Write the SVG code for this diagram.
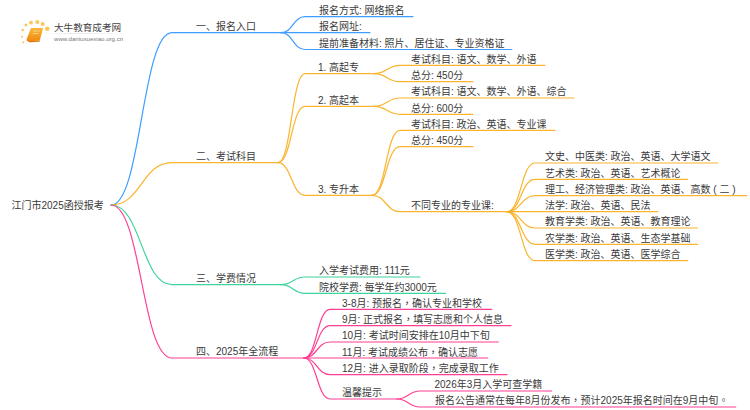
<svg xmlns="http://www.w3.org/2000/svg" width="750" height="410" viewBox="0 0 750 410">
<style>
text{font-family:"Liberation Sans","Noto Sans CJK SC",sans-serif;font-size:10px;fill:#3a3a3a}
.c{font-family:"Noto Sans CJK TC",sans-serif}
#connectors path{fill:none;stroke-width:1.2;stroke-linecap:round}
.b{stroke:#3f9dff}.o{stroke:#fab42f}.g{stroke:#3fd49b}.p{stroke:#ff3f92}
</style>
<defs>
<linearGradient id="lg" x1="0" x2="1" y1="0" y2="0"><stop offset="0" stop-color="#ddd" stop-opacity="0"/><stop offset=".3" stop-color="#ddd"/><stop offset="1" stop-color="#ddd" stop-opacity="0"/></linearGradient>
<linearGradient id="bk" x1="0" x2="0" y1="0" y2="1"><stop offset="0" stop-color="#fbb437"/><stop offset="1" stop-color="#f08a12"/></linearGradient>
</defs>
<rect width="750" height="410" fill="#fff"/>
<g id="logo">
<g fill="#fbc65a"><circle cx="22.700" cy="30" r="1.300"/><circle cx="22" cy="36.700" r="1"/><circle cx="23.300" cy="42.300" r="1"/><circle cx="26" cy="25" r="1.500"/><circle cx="31" cy="22.700" r="1.900"/><circle cx="37.300" cy="22" r="2"/><circle cx="42.700" cy="24" r="2"/><circle cx="47.300" cy="28.700" r="2.200"/></g>
<path d="M31 28h12l-3.300 12.500-11.700.8a1.500 1.500 0 0 1-1.500-1.800z" fill="url(#bk)"/>
<path d="M27.500 40c.5 1.500 1.500 2.300 3 2.300l9-.5 3.500-13-3.300 11.700-10.700.6z" fill="#d9770c"/>
<path d="M33 31h7M32.500 33.500h6" stroke="#ffe2a8" stroke-width=".7"/>
<rect x="45" y="33" width="88" height=".7" fill="url(#lg)"/>
<text x="54" y="30.500" style="font-size:9.600px;fill:#444">大牛教育成考网</text>
<text x="54" y="40.700" style="font-size:6.100px;fill:#777">www.daniuxuexiao.org.cn</text>
</g>
<g id="connectors">
<path class="b" d="M111 205C141.500 205 141.500 32.700 172 32.700H281"/>
<path class="b" d="M281 32.700C293 32.700 293 16.700 305 16.700H413"/>
<path class="b" d="M281 32.700H370"/>
<path class="b" d="M281 32.700C293 32.700 293 49.500 305 49.500H511.700"/>
<path class="o" d="M111 205C141.500 205 141.500 162.700 172 162.700H278"/>
<path class="o" d="M278 162.700C291.500 162.700 291.500 73.700 305 73.700H374"/>
<path class="o" d="M278 162.700C291.500 162.700 291.500 106.300 305 106.300H374"/>
<path class="o" d="M278 162.700C291.500 162.700 291.500 195.300 305 195.300H372"/>
<path class="o" d="M374 73.700C387 73.700 387 65.300 400 65.300H545"/>
<path class="o" d="M374 73.700C387 73.700 387 81.700 400 81.700H473"/>
<path class="o" d="M374 106.300C387 106.300 387 98 400 98H574"/>
<path class="o" d="M374 106.300C387 106.300 387 114.300 400 114.300H473"/>
<path class="o" d="M372 195.300C386 195.300 386 130.300 400 130.300H555"/>
<path class="o" d="M372 195.300C386 195.300 386 146.700 400 146.700H473"/>
<path class="o" d="M372 195.300C386 195.300 386 211.700 400 211.700H507"/>
<path class="o" d="M507 211.700C521 211.700 521 163 535 163H717.700"/>
<path class="o" d="M507 211.700C521 211.700 521 179.300 535 179.300H687.700"/>
<path class="o" d="M507 211.700C521 211.700 521 195.700 535 195.700H746.700"/>
<path class="o" d="M507 211.700H657.700"/>
<path class="o" d="M507 211.700C521 211.700 521 228 535 228H697.700"/>
<path class="o" d="M507 211.700C521 211.700 521 244.300 535 244.300H697.700"/>
<path class="o" d="M507 211.700C521 211.700 521 260.700 535 260.700H687.700"/>
<path class="g" d="M111 205C141.500 205 141.500 284.700 172 284.700H281"/>
<path class="g" d="M281 284.700C293 284.700 293 277 305 277H420"/>
<path class="g" d="M281 284.700C293 284.700 293 293.300 305 293.300H445.700"/>
<path class="p" d="M111 205C141.500 205 141.500 358 172 358H304"/>
<path class="p" d="M304 358C317 358 317 309.300 330 309.300H491.700"/>
<path class="p" d="M304 358C317 358 317 325.700 330 325.700H511"/>
<path class="p" d="M304 358C317 358 317 342 330 342H498.300"/>
<path class="p" d="M304 358H487.700"/>
<path class="p" d="M304 358C317 358 317 374.700 330 374.700H507"/>
<path class="p" d="M304 358C317 358 317 399 330 399H397"/>
<path class="p" d="M397 399C408.500 399 408.500 391 420 391H551.700"/>
<path class="p" d="M397 399C408.500 399 408.500 407 420 407H735.700"/>
</g>
<g id="root"><text x="11.500" y="208.500">江门市2025函授报考</text></g>
<g id="n1"><text x="196" y="30">一、报名入口</text></g>
<g id="n1-1"><text x="319" y="14">报名方式: 网络报名</text></g>
<g id="n1-2"><text x="319" y="30">报名网址:</text></g>
<g id="n1-3"><text x="319" y="46.800">提前准备材料: 照片、居住证、专业资格证</text></g>
<g id="n2"><text x="196" y="160">二、考试科目</text></g>
<g id="n2-1"><text x="318" y="71">1. 高起专</text></g>
<g id="n2-1-1"><text x="411" y="62.600">考试科目: 语文、数学、外语</text></g>
<g id="n2-1-2"><text x="411" y="79">总分: 450分</text></g>
<g id="n2-2"><text x="318" y="103.600">2. 高起本</text></g>
<g id="n2-2-1"><text x="411" y="95.300">考试科目: 语文、数学、外语、综合</text></g>
<g id="n2-2-2"><text x="411" y="111.600">总分: 600分</text></g>
<g id="n2-3"><text x="318" y="192.600">3. 专升本</text></g>
<g id="n2-3-1"><text x="411" y="127.600">考试科目: 政治、英语、专业课</text></g>
<g id="n2-3-2"><text x="411" y="144">总分: 450分</text></g>
<g id="n2-3-3"><text x="411" y="209">不同专业的专业课:</text></g>
<g id="n2-3-3-1"><text x="545" y="160.300">文史、中医类: 政治、英语、大学语文</text></g>
<g id="n2-3-3-2"><text x="545" y="176.600">艺术类: 政治、英语、艺术概论</text></g>
<g id="n2-3-3-3"><text x="545" y="193">理工、经济管理类: 政治、英语、高数 ( 二 )</text></g>
<g id="n2-3-3-4"><text x="545" y="209">法学: 政治、英语、民法</text></g>
<g id="n2-3-3-5"><text x="545" y="225.300">教育学类: 政治、英语、教育理论</text></g>
<g id="n2-3-3-6"><text x="545" y="241.600">农学类: 政治、英语、生态学基础</text></g>
<g id="n2-3-3-7"><text x="545" y="258">医学类: 政治、英语、医学综合</text></g>
<g id="n3"><text x="196" y="282">三、学费情况</text></g>
<g id="n3-1"><text x="319" y="274.300">入学考试费用: 111元</text></g>
<g id="n3-2"><text x="319" y="290.600">院校学费: 每学年约3000元</text></g>
<g id="n4"><text x="196" y="355.300">四、2025年全流程</text></g>
<g id="n4-1"><text x="342" y="306.600">3-8月: 预报名<tspan class="c">，</tspan>确认专业和学校</text></g>
<g id="n4-2"><text x="342" y="323">9月: 正式报名<tspan class="c">，</tspan>填写志愿和个人信息</text></g>
<g id="n4-3"><text x="342" y="339.300">10月: 考试时间安排在10月中下旬</text></g>
<g id="n4-4"><text x="342" y="355.600">11月: 考试成绩公布<tspan class="c">，</tspan>确认志愿</text></g>
<g id="n4-5"><text x="342" y="372">12月: 进入录取阶段<tspan class="c">，</tspan>完成录取工作</text></g>
<g id="n4-6"><text x="342" y="396.300">温馨提示</text></g>
<g id="n4-6-1"><text x="434.500" y="388.300">2026年3月入学可查学籍</text></g>
<g id="n4-6-2"><text x="435" y="404.300">报名公告通常在每年8月份发布<tspan class="c">，</tspan>预计2025年报名时间在9月中旬<tspan class="c">。</tspan></text></g>
</svg>
